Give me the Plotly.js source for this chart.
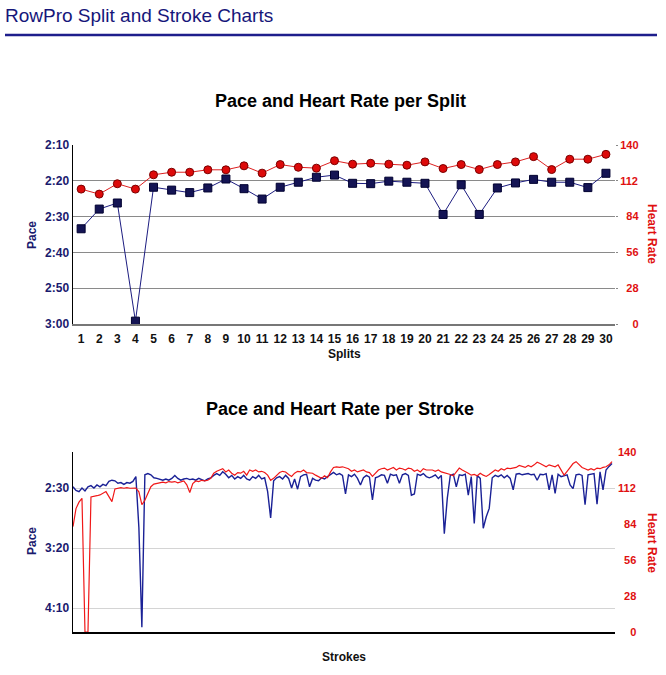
<!DOCTYPE html>
<html>
<head>
<meta charset="utf-8">
<script src="https://cdn.plot.ly/plotly-3.0.1.min.js"></script>
<style>
  html, body { margin: 0; padding: 0; background: #fff; }
  #chart { width: 666px; height: 675px; }
</style>
</head>
<body>
<div id="chart"></div>
<script>
// split chart data
let splits = [1,2,3,4,5,6,7,8,9,10,11,12,13,14,15,16,17,18,19,20,21,22,23,24,25,26,27,28,29,30];
// pace per split, seconds per 500m
let splitPace = [153.4,147.9,146.2,179.2,141.8,142.6,143.3,142.0,139.5,142.2,145.1,141.8,140.4,139.0,138.4,
                 140.7,140.8,140.1,140.4,140.7,149.4,141.1,149.4,142.0,140.6,139.6,140.4,140.4,141.9,137.9];
let splitHR = [105.5,101.6,109.7,105.5,116.7,118.7,118.7,120.6,120.6,123.7,118.0,124.7,122.6,121.9,127.7,
               125.0,125.7,125.0,124.2,126.8,121.6,124.7,120.8,124.7,126.8,130.9,120.8,128.9,128.9,132.7];

let paceTicksSplit = [130,140,150,160,170,180];
let paceLabelsSplit = ['2:10','2:20','2:30','2:40','2:50','3:00'];
let hrTicks = [0,28,56,84,112,140];
let hrLabels = ['\u2007\u20070','\u200728','\u200756','\u200784','112','140'];

// stroke chart data
let strokePace = [
  149,152,153,150,152.5,149,148,150,147.5,149,147,148,144.5,143.5,144,146,145.5,147,145.5,146,
  144.5,140.5,183,266,139,138,139,141.5,142,142.5,143.5,142.5,143.5,142,139.5,142,143.5,142.5,142,143,
  142.5,143.5,142,143,144,142.5,141.5,139.5,138,139.5,136.5,138.5,141.5,139.5,142.5,140.5,142,139.5,142.5,143.5,
  140.5,142,139.5,142.5,141.5,153,175,144,141.5,140.5,142.5,139.5,142,150,142.5,151,140.5,139,138.5,149,
  142,143.5,144,141.5,142.5,140.5,138.5,137,139,138,139.5,155,139,140.5,138.5,142,147.5,141.5,139.5,141,
  160,141.5,140.5,139,139.5,146,138.5,139.5,139,146,139,138,139.5,156,155,138.5,139.5,138,140.5,141.5,
  140.5,139,142,139.5,188,158.5,139.5,138.5,149,139,139.5,138.5,156,140.5,179.5,139.5,142,183.5,174,167,
  141.5,139.5,140.5,139,141.5,139.5,142,151.5,138.5,138,139,138.5,138,139,138.5,143.5,138.5,139,138,151.5,
  139,154.5,138.5,140.5,139.5,139,147.5,150.5,139,138.5,139.5,164,139,138.5,138,163.5,136.5,151.5,135,132,129.5
];
let strokeHR = [
  82,96,101,104,0,0,105,105.3,106,106.6,107.9,109.2,105.3,101.4,111.3,111.8,112.3,111.8,112.3,111.8,
  112,112,109,99,102.5,108,113,115,115.5,116,116.5,116,117,116.5,117,116,116.5,117.5,114.5,108.5,
  115.5,117.5,117,118,117.5,118,119.5,123.5,125,126,127,124.5,126,123.5,122,124,123.5,125,122,126,
  125,126,124.5,125,124,122,118,119.5,121.5,124,125,124.5,122.5,121,123.5,125,124.5,126,124,123.5,
  123.5,122,121,119.5,121.5,120,124.5,128,128.5,128,128.5,127.5,127,125,126,124.5,125,126,124.5,124,
  121,123.5,126,127,127.5,126,127,128,126,127.5,127,126,127.5,127,125,126,124.5,127,126,126,
  126,125,126,124.5,124,123.5,122.5,121.5,124.5,127.5,126,125,123.5,122,122.5,121.5,123.5,122,121,122.5,
  124.5,126,125,127,126,127.5,127,127.5,128,129.5,128.5,128,129.5,128.5,130,132,131,129.5,128.5,130,
  129.5,128.5,130,126,122,125,128.5,131,132.5,130.5,128,127,126,127,126,127.5,127,128,128.5,130,132.5
];
let strokes = strokePace.map((v, i) => i);

let paceTicksStroke = [150,200,250];
let paceLabelsStroke = ['2:30','3:20','4:10'];

const W = 666, H = 675;
function px(x) { return x / W; }
function py(y) { return 1 - y / H; }

const navy = '#1a1a6e';
const red = '#e01010';
const fam = '"Liberation Sans", Arial, Helvetica, sans-serif';

let boldNavy = {family: fam, size: 12, color: navy, weight: 'bold'};
let boldRed = {family: fam, size: 12, color: red, weight: 'bold'};
let boldRedSmall = {family: fam, size: 11, color: red, weight: 'bold'};
let boldBlack = {family: fam, size: 12, color: '#111', weight: 'bold'};

var tracePaceSplit = {
    x: splits, y: splitPace, xaxis: 'x', yaxis: 'y',
    mode: 'lines+markers',
    line: {color: '#1c1c80', width: 1},
    marker: {symbol: 'square', size: 8, color: '#141454', line: {color: '#000030', width: 1}}
};
var traceHRSplit = {
    x: splits, y: splitHR, xaxis: 'x', yaxis: 'y2',
    mode: 'lines+markers',
    line: {color: '#dd2020', width: 1},
    marker: {symbol: 'circle', size: 8, color: '#dd0a0a', line: {color: '#7a0000', width: 1}}
};
var tracePaceStroke = {
    x: strokes, y: strokePace, xaxis: 'x2', yaxis: 'y3',
    mode: 'lines', line: {color: '#1a2196', width: 1.4}
};
var traceHRStroke = {
    x: strokes, y: strokeHR, xaxis: 'x2', yaxis: 'y4',
    mode: 'lines', line: {color: '#f01818', width: 1.2}
};

function label(text, x, y, font, angle) {
    return {text: text, xref: 'paper', yref: 'paper', x: px(x), y: py(y),
            xanchor: 'center', yanchor: 'middle', textangle: angle || 0,
            showarrow: false, font: font};
}

var layout = {
    width: W, height: H,
    margin: {l: 0, r: 0, t: 0, b: 0},
    paper_bgcolor: '#fff', plot_bgcolor: '#fff',
    showlegend: false,
    font: {family: fam},
    xaxis: {
        domain: [px(73), px(615)], anchor: 'y',
        range: [0.55, 30.5],
        tickvals: splits, tickfont: boldBlack,
        ticks: 'outside', ticklen: 3, tickcolor: 'rgba(0,0,0,0)',
        showgrid: false, zeroline: false,
        showline: true, linecolor: '#777', linewidth: 2
    },
    yaxis: {
        domain: [py(324), py(145)], anchor: 'x',
        range: [180, 130],
        tickvals: paceTicksSplit, ticktext: paceLabelsSplit, tickfont: boldNavy,
        gridcolor: '#8a8a8a', gridwidth: 1, zeroline: false,
        showline: true, linecolor: '#000', linewidth: 1.5
    },
    yaxis2: {
        overlaying: 'y', side: 'right', anchor: 'x',
        range: [0, 140],
        tickvals: hrTicks, ticktext: hrLabels, tickfont: boldRedSmall,
        ticks: 'outside', ticklen: 2, tickcolor: '#888', ticklabelstandoff: 0,
        showgrid: false, zeroline: false, showline: false
    },
    xaxis2: {
        domain: [px(73), px(615)], anchor: 'y3',
        range: [0, 181],
        showticklabels: false, ticks: '',
        showgrid: false, zeroline: false,
        showline: true, linecolor: '#000', linewidth: 1.5
    },
    yaxis3: {
        domain: [py(632), py(452)], anchor: 'x2',
        range: [270, 120],
        tickvals: paceTicksStroke, ticktext: paceLabelsStroke, tickfont: boldNavy,
        gridcolor: '#d4d4d4', gridwidth: 1, zeroline: false,
        showline: true, linecolor: '#000', linewidth: 1.5
    },
    yaxis5: {
        overlaying: 'y3', anchor: 'x2',
        range: [270, 120],
        tickvals: paceTicksStroke.filter((v, i) => i !== 1),
        showticklabels: false, ticks: '',
        gridcolor: '#8a8a8a', gridwidth: 1, zeroline: false, showline: false
    },
    yaxis4: {
        overlaying: 'y3', side: 'right', anchor: 'x2',
        range: [0, 140],
        tickvals: hrTicks, ticktext: hrLabels, tickfont: boldRedSmall,
        ticks: '', ticklabelstandoff: 2,
        showgrid: false, zeroline: false, showline: false
    },
    shapes: [
        {type: 'line', xref: 'paper', yref: 'paper', x0: px(5), x1: px(657), y0: py(35), y1: py(35),
         line: {color: '#1e1e8c', width: 2.5}}
    ],
    annotations: [
        {text: 'RowPro Split and Stroke Charts', xref: 'paper', yref: 'paper', x: px(3), y: py(16),
         xanchor: 'left', yanchor: 'middle', showarrow: false,
         font: {family: fam, size: 19, color: '#16167a'}},
        label('Pace and Heart Rate per Split', 340, 101, {family: fam, size: 18, color: '#000', weight: 'bold'}),
        label('Pace and Heart Rate per Stroke', 340, 409, {family: fam, size: 18, color: '#000', weight: 'bold'}),
        label('Pace', 32, 235, boldNavy, -90),
        label('Heart Rate', 652, 234, boldRed, 90),
        label('Splits', 344, 354, boldBlack),
        label('Pace', 32, 541, boldNavy, -90),
        label('Heart Rate', 652, 543, boldRed, 90),
        label('Strokes', 344, 657, boldBlack)
    ]
};

Plotly.newPlot('chart', [tracePaceSplit, traceHRSplit, tracePaceStroke, traceHRStroke], layout,
               {staticPlot: true, displayModeBar: false});
</script>
</body>
</html>
